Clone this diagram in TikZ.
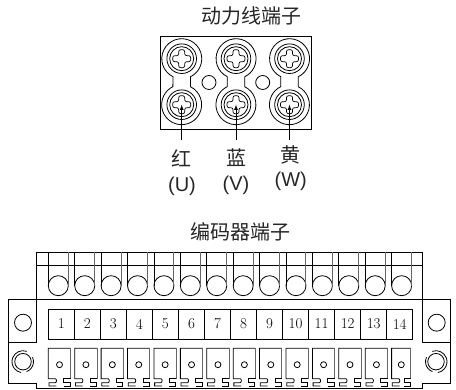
\documentclass[tikz,border=0pt]{standalone}
\usepackage{fontspec}
\newfontfamily\cjk{Noto Sans CJK SC}
\newfontfamily\arial{Liberation Sans}
\tikzset{
  frame/.style={line width=0.9pt, black},
  thin line/.style={line width=0.8pt, black},
  grey line/.style={line width=1pt, black!60},
  title/.style={font=\cjk\fontsize{20}{20}\selectfont, text=black!85, inner sep=0pt},
  phase/.style={font=\arial\fontsize{20}{20}\selectfont, text=black!85, inner sep=0pt},
  numcell/.style={draw, thin line, minimum width=26.03pt, minimum height=30pt, inner sep=0pt, font=\fontsize{15}{15}\selectfont},
  screw/.pic={
    \draw[thin line] (0,0) circle (14.8);
    \draw[thin line] (0,0) circle (12);
    \draw[line width=0.7pt, rounded corners=2pt] (-3,9) -- (3,9) -- (3,3) -- (9,3) -- (9,-3) -- (3,-3) -- (3,-9) -- (-3,-9) -- (-3,-3) -- (-9,-3) -- (-9,3) -- (-3,3) -- cycle;
  }
}
\begin{document}
\begin{tikzpicture}[x=1pt,y=1pt]
\useasboundingbox (0,0) rectangle (456,390);

% power terminals
\node[title] (powertitle) at (251.5,374) {动力线端子};
\draw[frame] (160.7,260.7) rectangle (311,354);
\foreach \x/\n in {181.7/U,236/V,289.5/W}{
  \draw[thin line] (\x-8.7,313.3) arc[start angle=244,end angle=-64,radius=20] -- (\x+8.7,303.3)
    arc[start angle=64,end angle=-244,radius=20] -- cycle;
  \pic at (\x,331.3) {screw};
  \pic at (\x,285.3) {screw};
  \coordinate (t\n) at (\x,285.3);
  \coordinate (s\n) at (\x,250);
  \draw[thin line, -latex] (s\n) -- (t\n);
}
\node[draw, thin line, circle, minimum size=14pt, inner sep=0pt] (holeA) at (209,307.5) {};
\node[draw, thin line, circle, minimum size=14pt, inner sep=0pt] (holeB) at (262.7,307.5) {};

\node[title] (red) at (181.7,232) {红};
\node[title] (blue) at (236,232) {蓝};
\node[title] (yellow) at (290,235) {黄};
\node[phase] (U) at (182,204) {(U)};
\node[phase] (V) at (236,205) {(V)};
\node[phase] (W) at (290.7,209) {(W)};

% encoder terminals
\node[title] (enctitle) at (240,158) {编码器端子};
\draw[frame] (36,91) -- (36,138) -- (422,138) -- (422,91);
\draw[frame] (36,125) -- (422,125);
\draw[frame] (8,91) -- (450,91) -- (450,7) -- (422,7) -- (422,2) -- (36,2) -- (36,7) -- (8,7) -- cycle;
\draw[frame] (8,48) -- (36,48) -- (36,91);
\draw[frame] (450,48) -- (422,48) -- (422,91);

\foreach \s in {0,...,13}{
  \pgfmathsetmacro{\xa}{48.3+26.41*\s}
  \node[draw, thin line, circle, minimum size=20pt, inner sep=0pt] (pin\s) at (\xa+10,104.3) {};
  \draw[thin line] (\xa,138) -- (\xa,104.3);
  \draw[grey line] (\xa+20,138) -- (\xa+20,104.3);
}

\foreach \i in {1,...,14}{
  \node[numcell] (cell\i) at (48.3+13.015+26.03*\i-26.03,66) {\i};
}

\foreach \s/\w in {0/22.4,1/22.4,2/22.4,3/22.4,4/22.4,5/22.4,6/22.4,7/22.4,8/22.4,9/22.4,10/22.4,11/22.4,12/22.4,13/19.3}{
  \pgfmathsetmacro{\xa}{48.3+26.41*\s}
  \pgfmathsetmacro{\xb}{\xa+\w}
  \draw[thin line] (\xa+8,4) -- (\xa+.7,4) -- (\xa+.7,7.3) -- (\xa+7,7.3) to[out=0,in=0,looseness=1] (\xa+7,11.3) -- (\xa,11.3) -- (\xa,41.7) -- (\xb,41.7);
  \draw[grey line] (\xb,41.7) -- (\xb,11.3);
  \draw[thin line] (\xb,11.3) -- (\xb-7,11.3) -- (\xb-7,7.3) -- (\xb-.7,7.3) -- (\xb-.7,4) -- (\xb-7,4);
  \node[draw, thin line, circle, minimum size=6pt, inner sep=0pt] (via\s) at (\xa+\w/2,25.3) {};
}

% mounting holes
\node[draw, thin line, circle, minimum size=17pt, inner sep=0pt] (mountA) at (23,67.3) {};
\node[draw, thin line, circle, minimum size=17pt, inner sep=0pt] (mountB) at (436.7,67.3) {};
\node[draw, thin line, circle, minimum size=16.5pt, inner sep=0pt] (mountC) at (23,28.3) {};
\node[draw, thin line, circle, minimum size=16.5pt, inner sep=0pt] (mountD) at (436,28.3) {};
\draw[thin line] (23,28.3) ++(70:11) arc[start angle=70,end angle=260,radius=11];
\draw[thin line] (23,28.3) ++(-70:10.5) arc[start angle=-70,end angle=25,radius=10.5];
\draw[thin line] (436,28.3) ++(110:11) arc[start angle=110,end angle=-80,radius=11];
\draw[thin line] (436,28.3) ++(250:10.5) arc[start angle=250,end angle=155,radius=10.5];
\end{tikzpicture}
\end{document}
